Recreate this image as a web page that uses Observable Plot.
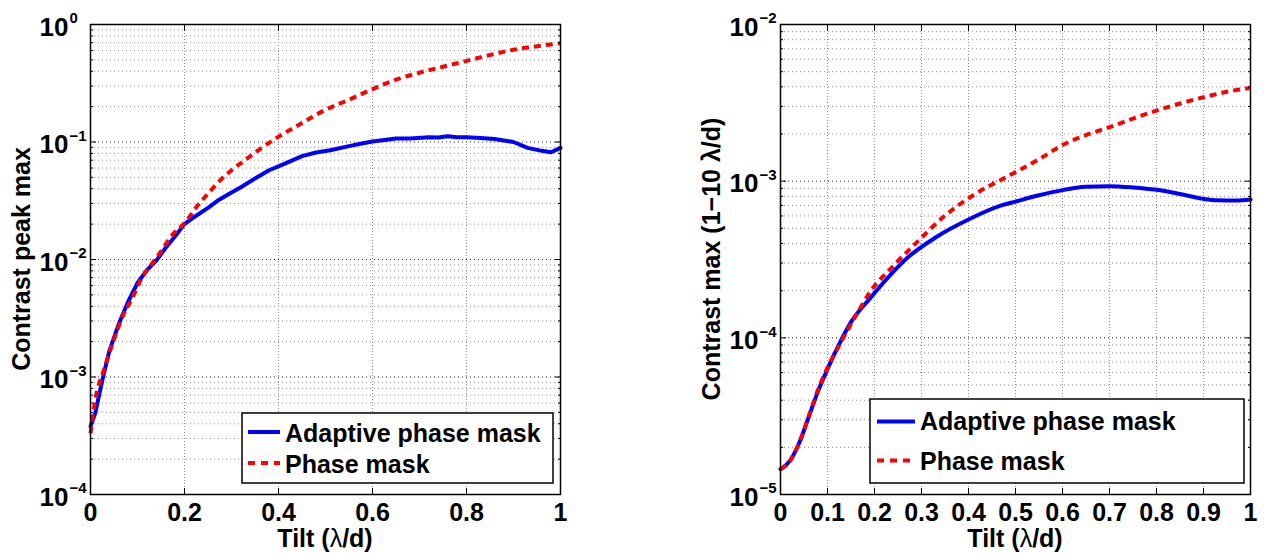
<!DOCTYPE html>
<html><head><meta charset="utf-8">
<script src="https://cdn.jsdelivr.net/npm/d3@7"></script>
<script src="https://cdn.jsdelivr.net/npm/@observablehq/plot@0.6"></script>
<style>
body{margin:0;background:#fff;}
#c{position:relative;width:1264px;height:553px;overflow:hidden;font-family:"Liberation Sans",Arial,sans-serif;}
#c svg{position:absolute;top:0;}
</style></head><body><div id="c"></div>
<script>
// ---------- Left panel data ----------
const tiltAdaptiveL = [0,0.01,0.025,0.04,0.06,0.08,0.10,0.12,0.14,0.16,0.18,0.20,0.22,0.25,0.27,0.30,0.32,0.35,0.38,0.41,0.45,0.48,0.51,0.55,0.58,0.60,0.65,0.68,0.72,0.74,0.76,0.78,0.80,0.83,0.86,0.90,0.93,0.96,0.98,1.0];
const adaptiveL = [3.8e-4,4.9e-4,9.33e-4,1.66e-3,2.82e-3,4.37e-3,6.31e-3,8.13e-3,9.77e-3,0.0126,0.0158,0.0200,0.0229,0.0275,0.0316,0.0372,0.0412,0.0490,0.0575,0.0646,0.0759,0.0813,0.0851,0.0923,0.0977,0.101,0.107,0.107,0.110,0.109,0.112,0.110,0.110,0.108,0.106,0.100,0.0891,0.0841,0.0817,0.0891];
const tiltPhaseL = [0,0.01,0.03,0.05,0.07,0.09,0.11,0.13,0.15,0.17,0.20,0.23,0.25,0.28,0.30,0.33,0.35,0.40,0.45,0.50,0.55,0.60,0.65,0.70,0.75,0.80,0.85,0.90,0.95,1.0];
const phaseL = [3.31e-4,6.31e-4,1.20e-3,2.09e-3,3.39e-3,4.79e-3,7.08e-3,9.12e-3,0.0117,0.0155,0.0204,0.0295,0.0363,0.0490,0.0575,0.0708,0.0813,0.111,0.145,0.188,0.229,0.282,0.339,0.389,0.437,0.490,0.550,0.610,0.653,0.692];
const xTicksL = [0,0.2,0.4,0.6,0.8,1];
const yMajorL = [1e-4,1e-3,1e-2,1e-1,1];
const yExpL = ["\u22124","\u22123","\u22122","\u22121","0"];
const yLabelL = "Contrast peak max";

// ---------- Right panel data ----------
const tiltAdaptiveR = [0,0.02,0.04,0.06,0.08,0.10,0.12,0.15,0.19,0.23,0.27,0.33,0.40,0.47,0.50,0.55,0.60,0.65,0.70,0.75,0.80,0.85,0.90,0.93,0.97,1.0];
const adaptiveR = [1.45e-5,1.64e-5,2.14e-5,3.12e-5,4.57e-5,6.31e-5,8.51e-5,1.26e-4,1.78e-4,2.45e-4,3.24e-4,4.37e-4,5.69e-4,7.00e-4,7.41e-4,8.13e-4,8.77e-4,9.20e-4,9.29e-4,9.12e-4,8.81e-4,8.28e-4,7.71e-4,7.55e-4,7.53e-4,7.64e-4];
const tiltPhaseR = [0,0.02,0.04,0.06,0.08,0.10,0.13,0.16,0.19,0.24,0.29,0.35,0.41,0.49,0.55,0.60,0.65,0.70,0.75,0.80,0.85,0.90,0.95,1.0];
const phaseR = [1.45e-5,1.64e-5,2.14e-5,3.16e-5,4.68e-5,6.46e-5,9.55e-5,1.38e-4,1.95e-4,2.88e-4,4.07e-4,6.03e-4,8.13e-4,1.10e-3,1.38e-3,1.70e-3,1.97e-3,2.21e-3,2.51e-3,2.82e-3,3.13e-3,3.43e-3,3.72e-3,3.94e-3];
const xTicksR = [0,0.1,0.2,0.3,0.4,0.5,0.6,0.7,0.8,0.9,1];
const yMajorR = [1e-5,1e-4,1e-3,1e-2];
const yExpR = ["\u22125","\u22124","\u22123","\u22122"];
const yLabelR = "Contrast max (1\u221210 \u03bb/d)";

const seriesNames = ["Adaptive phase mask","Phase mask"];
const minorMult = [2,3,4,5,6,7,8,9];
const xLabel = ["Tilt (", "\u03bb", "/d)"];

const FONT = '"Liberation Sans", Arial, Helvetica, sans-serif';

function panel(cfg) {
  const yMinor = [];
  cfg.yMajor.slice(0,-1).forEach(d => minorMult.forEach(m => yMinor.push(d*m)));
  const A = cfg.tA.map((t,i)=>({t, v: cfg.vA[i]}));
  const P = cfg.tP.map((t,i)=>({t, v: cfg.vP[i]}));
  const el = Plot.plot({
    width: cfg.width, height: 553,
    marginTop: 24, marginBottom: 59, marginLeft: 90, marginRight: cfg.marginRight,
    x: {domain: [0,1]},
    y: {type: "log", domain: [cfg.yMajor[0], cfg.yMajor[cfg.yMajor.length-1]]},
    style: {fontFamily: FONT, fontWeight: "bold", background: "white", overflow: "visible", color: "black"},
    marks: [
      Plot.gridY(yMinor, {stroke: "#8a8a8a", strokeOpacity: 1, strokeDasharray: "1,3"}),
      Plot.gridY(cfg.yMajor, {stroke: "#222", strokeOpacity: 1, strokeDasharray: "1,3"}),
      Plot.gridX(cfg.xTicks, {stroke: "#8a8a8a", strokeOpacity: 1, strokeDasharray: "1,2"}),
      Plot.line(A, {x: "t", y: "v", stroke: "#0000ff", strokeWidth: 4, curve: cfg.curveA}),
      Plot.line(P, {x: "t", y: "v", stroke: "#ff0000", strokeWidth: 4, strokeDasharray: "7,5", strokeLinecap: "butt", curve: "monotone-x"}),
      Plot.frame({stroke: "black", strokeWidth: 1.5}),
      Plot.axisX({ticks: cfg.xTicks, anchor: "bottom", tickSize: 0, tickPadding: 9, tickFormat: d => String(d), fontSize: 25, fontWeight: "bold", label: null}),
      Plot.axisX({ticks: cfg.xTicks, anchor: "bottom", tickSize: -6, fill: "none", label: null}),
      Plot.axisX({ticks: cfg.xTicks, anchor: "top", tickSize: -6, fill: "none", label: null}),
      Plot.axisY({ticks: cfg.yMajor, anchor: "left", tickSize: -6, fill: "none", label: null}),
      Plot.axisY({ticks: cfg.yMajor, anchor: "right", tickSize: -6, fill: "none", label: null}),
      Plot.axisY({ticks: yMinor, anchor: "left", tickSize: -3, fill: "none", label: null}),
      Plot.axisY({ticks: yMinor, anchor: "right", tickSize: -3, fill: "none", label: null}),
      Plot.text(cfg.yMajor, {y: d => d, frameAnchor: "left", text: () => "10", textAnchor: "end", dx: -22, dy: 3, fontSize: 26, fontWeight: "bold"}),
      Plot.text(cfg.yMajor, {y: d => d, frameAnchor: "left", text: (d,i) => cfg.yExp[i], textAnchor: "start", dx: -21, dy: -6, fontSize: 15, fontWeight: "bold"})
    ]
  });
  el.style.left = cfg.left + "px";
  const svg = d3.select(el);
  // y label
  svg.append("text")
    .attr("transform", `translate(${cfg.yLabX},259) rotate(-90)`)
    .attr("text-anchor", "middle").attr("dy", "0.35em")
    .attr("font-size", 25).attr("font-weight", "bold").attr("font-family", FONT)
    .text(cfg.yLabel);
  // x label
  const xt = svg.append("text")
    .attr("x", 90 + 235).attr("y", 547).attr("text-anchor", "middle")
    .attr("font-size", 25).attr("font-weight", "bold").attr("font-family", FONT);
  xt.append("tspan").text(xLabel[0]);
  xt.append("tspan").attr("font-weight", "normal").text(xLabel[1]);
  xt.append("tspan").text(xLabel[2]);
  // legend
  const L = cfg.legend;
  const g = svg.append("g");
  g.append("rect").attr("x", L.x).attr("y", L.y).attr("width", L.w).attr("height", L.h)
    .attr("fill", "white").attr("stroke", "black").attr("stroke-width", 1.5);
  const colors = ["#0000ff", "#ff0000"];
  const dashes = [null, "7,6"];
  seriesNames.forEach((name, i) => {
    const ly = L.lineY[i];
    g.append("line").attr("x1", L.lx1).attr("x2", L.lx2).attr("y1", ly).attr("y2", ly)
      .attr("stroke", colors[i]).attr("stroke-width", 4).attr("stroke-dasharray", dashes[i]);
    g.append("text").attr("x", L.tx).attr("y", L.textY[i]).attr("text-anchor", "start")
      .attr("font-size", 25).attr("font-weight", "bold").attr("font-family", FONT)
      .text(name);
  });
  document.getElementById("c").appendChild(el);
}

panel({
  left: 0, width: 600, marginRight: 40,
  tA: tiltAdaptiveL, vA: adaptiveL, tP: tiltPhaseL, vP: phaseL, curveA: "linear",
  xTicks: xTicksL, yMajor: yMajorL, yExp: yExpL, yLabel: yLabelL, yLabX: 21,
  legend: {x: 242, y: 413, w: 311, h: 70, lx1: 248, lx2: 280, lineY: [432, 463], tx: 285, textY: [441.5, 473]}
});
panel({
  left: 690, width: 574, marginRight: 14,
  tA: tiltAdaptiveR, vA: adaptiveR, tP: tiltPhaseR, vP: phaseR, curveA: "monotone-x",
  xTicks: xTicksR, yMajor: yMajorR, yExp: yExpR, yLabel: yLabelR, yLabX: 21,
  legend: {x: 180, y: 399, w: 374, h: 84, lx1: 187, lx2: 225, lineY: [421.5, 460.5], tx: 230, textY: [430, 470]}
});
</script>
</body></html>
